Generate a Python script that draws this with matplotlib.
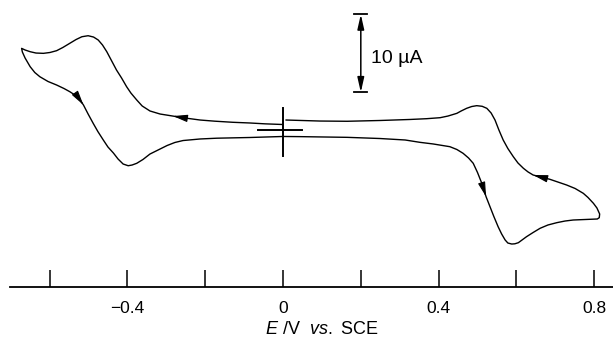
import matplotlib
matplotlib.use("Agg")
import matplotlib.pyplot as plt
import numpy as np

plt.rcParams['font.family'] = ['Liberation Sans', 'DejaVu Sans']
plt.rcParams['mathtext.fontset'] = 'custom'
plt.rcParams['mathtext.rm'] = 'Liberation Sans'
plt.rcParams['mathtext.it'] = 'Liberation Sans:italic'

# cyclic voltammogram, E in V vs. SCE, current in uA (cathodic up)
# scan starts at 0 V, goes negative on the upper branch
E_upper_left = [-0.003, -0.046, -0.085, -0.129, -0.175, -0.213, -0.252, -0.283,
                -0.316, -0.342, -0.362, -0.376, -0.391, -0.402, -0.415, -0.428,
                -0.441, -0.453, -0.464, -0.475, -0.487, -0.501, -0.517, -0.532,
                -0.548, -0.566, -0.582, -0.599, -0.616, -0.635, -0.650, -0.663, -0.672]
I_upper_left = [0.71, 0.79, 0.90, 0.99, 1.13, 1.28, 1.54, 1.79,
                2.05, 2.44, 3.08, 3.85, 4.74, 5.55, 6.67, 7.69,
                8.91, 10.04, 10.90, 11.54, 11.92, 12.09, 11.96, 11.60,
                11.12, 10.58, 10.17, 9.94, 9.83, 9.87, 10.04, 10.26, 10.47]

E_lower_left = [-0.670, -0.663, -0.650, -0.638, -0.625, -0.604, -0.582, -0.563,
                -0.548, -0.533, -0.522, -0.513, -0.501, -0.488, -0.476, -0.462,
                -0.450, -0.436, -0.424, -0.411, -0.398, -0.388, -0.376, -0.360,
                -0.342, -0.316, -0.298, -0.278, -0.257, -0.213, -0.170, -0.085, 0.0]
I_lower_left = [10.0, 9.23, 8.12, 7.37, 6.83, 6.22, 5.77, 5.32,
                4.91, 4.42, 3.85, 3.21, 2.05, 0.86, -0.19, -1.28,
                -2.18, -2.95, -3.72, -4.36, -4.58, -4.49, -4.27, -3.78,
                -3.08, -2.44, -1.99, -1.60, -1.35, -1.15, -1.05, -0.96, -0.83]

E_lower_right = [0.044, 0.165, 0.249, 0.314, 0.352, 0.386, 0.411, 0.429,
                 0.447, 0.463, 0.477, 0.489, 0.500, 0.511, 0.522, 0.532,
                 0.542, 0.553, 0.562, 0.571, 0.578, 0.588, 0.596, 0.605,
                 0.626, 0.643, 0.661, 0.681, 0.704, 0.725, 0.746, 0.771,
                 0.798, 0.808, 0.813]
I_lower_right = [-0.85, -0.94, -1.09, -1.28, -1.58, -1.79, -1.99, -2.14,
                 -2.50, -2.99, -3.59, -4.27, -5.45, -6.83, -8.55, -9.83,
                 -11.09, -12.40, -13.33, -14.10, -14.49, -14.62, -14.59, -14.45,
                 -13.68, -13.14, -12.60, -12.18, -11.88, -11.67, -11.54, -11.49,
                 -11.45, -11.41, -11.24]

E_upper_right = [0.814, 0.807, 0.798, 0.784, 0.772, 0.751, 0.729, 0.707,
                 0.686, 0.663, 0.643, 0.630, 0.618, 0.604, 0.592, 0.578,
                 0.566, 0.555, 0.545, 0.535, 0.524, 0.512, 0.498, 0.485,
                 0.472, 0.458, 0.447, 0.424, 0.404, 0.369, 0.326, 0.249,
                 0.165, 0.095, 0.044, 0.008]
I_upper_right = [-10.77, -10.0, -9.40, -8.65, -8.12, -7.50, -7.05, -6.67,
                 -6.32, -6.03, -5.77, -5.38, -4.91, -4.23, -3.42, -2.37,
                 -1.28, 0.0, 1.28, 2.18, 2.78, 3.04, 3.12, 3.01,
                 2.78, 2.44, 2.14, 1.79, 1.58, 1.45, 1.35, 1.22,
                 1.12, 1.15, 1.22, 1.28]

tick_values = [-0.6, -0.4, -0.2, 0.0, 0.2, 0.4, 0.6, 0.8]
tick_labels = ['', '\u22120.4', '', '0', '', '0.4', '', '0.8']

scale_E = 0.2
scale_I = (4.83, 14.83)   # 10 uA bar
scale_text = '10 \u00b5A'

E = np.concatenate([E_upper_left, E_lower_left, E_lower_right, E_upper_right])
I = np.concatenate([I_upper_left, I_lower_left, I_lower_right, I_upper_right])

fig = plt.figure(figsize=(6.13, 3.40), dpi=100)
ax = fig.add_axes([10 / 613, 53 / 340, 603 / 613, 287 / 340])
ax.set_xlim(-0.7018, 0.8483)
ax.set_ylim(-20.13, 16.67)

ax.plot(E, I, color='black', lw=1.0, solid_joinstyle='round')

# direction arrows along the trace
arrow_style = dict(arrowstyle='-|>,head_length=0.8,head_width=0.2', color='black',
                   lw=0.8, shrinkA=0, shrinkB=0, mutation_scale=11)
for Es, Is, k in [(E_upper_left, I_upper_left, 7), (E_lower_left, I_lower_left, 11),
                  (E_lower_right, I_lower_right, 14), (E_upper_right, I_upper_right, 10)]:
    ax.annotate('', xy=(Es[k], Is[k]), xytext=(Es[k - 1], Is[k - 1]), arrowprops=arrow_style)

# origin cross
ax.plot([0, 0], [-3.33, 2.82], color='black', lw=1.4)
ax.plot([-0.064, 0.049], [0, 0], color='black', lw=1.4)

# current scale bar
ax.annotate('', xy=(scale_E, scale_I[1]), xytext=(scale_E, scale_I[0]),
            arrowprops=dict(arrowstyle='<|-|>,head_length=0.8,head_width=0.18', color='black',
                            lw=1.1, shrinkA=0, shrinkB=0, mutation_scale=11))
for yv in scale_I:
    ax.plot([scale_E - 0.017, scale_E + 0.017], [yv, yv], color='black', lw=1.3)
ax.text(scale_E + 0.026, np.mean(scale_I) - 0.7, scale_text, fontsize=14, ha='left', va='center')

for side in ['left', 'right', 'top']:
    ax.spines[side].set_visible(False)
ax.spines['bottom'].set_linewidth(1.3)
ax.set_yticks([])
ax.set_xticks(tick_values)
ax.set_xticklabels(tick_labels)
ax.tick_params(axis='x', direction='in', length=12, width=1.1, pad=10, labelsize=12.5)
ax.set_xlabel(r'$\mathit{E}$ /V  $\mathit{vs.}$ SCE', fontsize=13, va='top')
ax.xaxis.set_label_coords(0.517, -0.118)
ax.patch.set_visible(False)

fig.savefig('out.png', dpi=100)
